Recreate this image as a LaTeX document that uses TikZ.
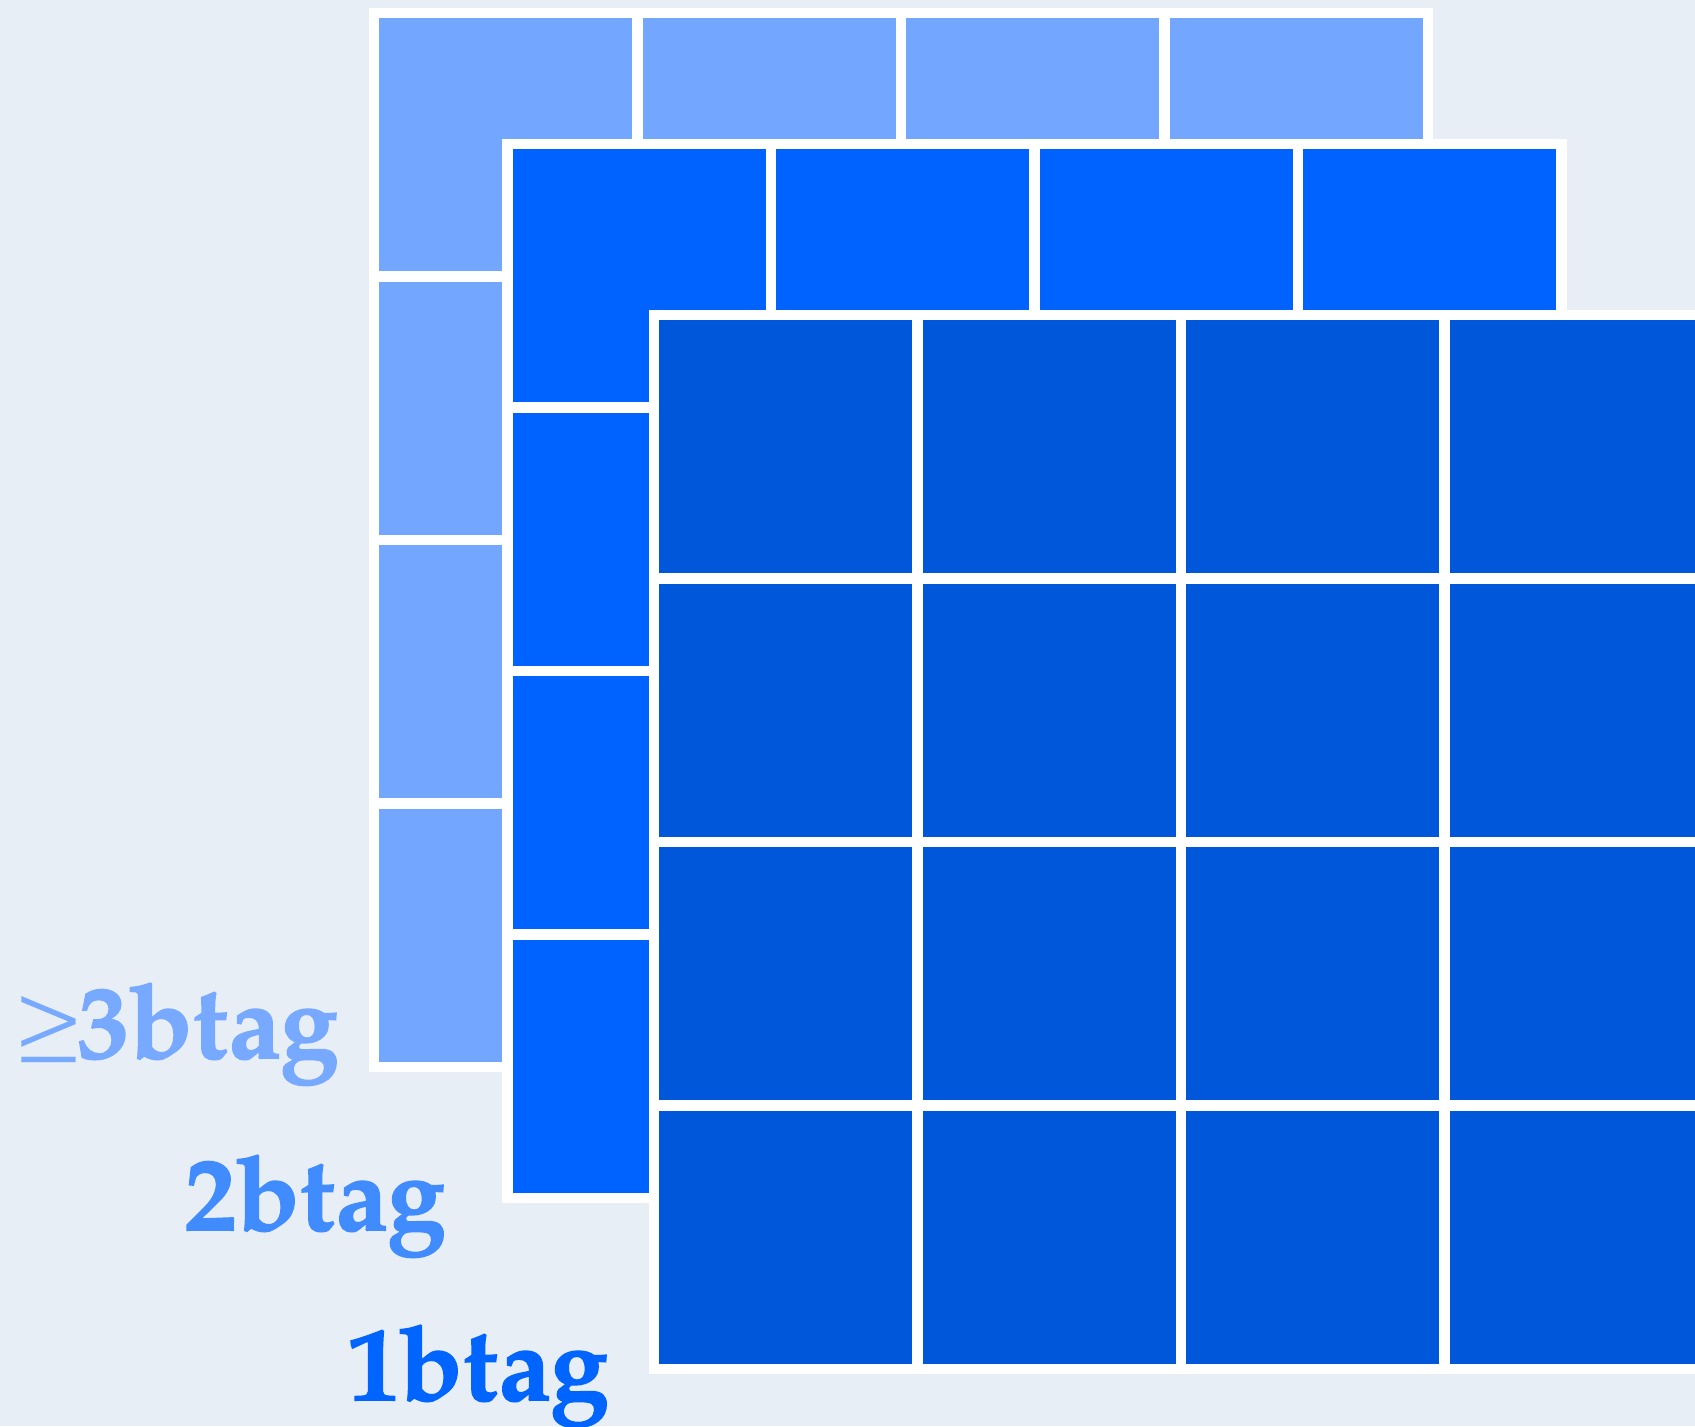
\documentclass[tikz,border=0pt]{standalone}
\usepackage{fontspec}
\setmainfont{TeX Gyre Pagella}[BoldFeatures={FakeBold=1.4}]
\definecolor{bg}{HTML}{E8EEF6}
\definecolor{lightL}{HTML}{73A6FF}
\definecolor{midL}{HTML}{0062FF}
\definecolor{frontL}{HTML}{0057D9}
\definecolor{txtA}{HTML}{76A9FF}
\definecolor{txtB}{HTML}{408CFF}
\definecolor{txtC}{HTML}{0064FF}
\begin{document}
\begin{tikzpicture}[x=0.5pt,y=-0.5pt,
  lbl/.style={anchor=base west,inner sep=0pt,font=\fontsize{52pt}{52pt}\selectfont\bfseries}]
\useasboundingbox (0,0) rectangle (1695,1426);
\clip (0,0) rectangle (1695,1426);
\fill[bg] (0,0) rectangle (1695,1426);
\foreach \ox/\oy/\col in {379.3/18.3/lightL, 512.7/149.3/midL, 659.3/320/frontL}{
  \fill[white] (\ox-10.5,\oy-10.5) rectangle (\ox+1054,\oy+1054);
  \foreach \i in {0,...,3}{\foreach \j in {0,...,3}{
    \fill[\col] (\ox+\i*263.5,\oy+\j*263.5) rectangle ++(253,253);
  }}
}
\node[lbl,text=txtA] (t3) at (14,1058) {{\mdseries\fontsize{45pt}{45pt}\selectfont\raisebox{3pt}{≥}}\kern-3pt3btag};
\node[lbl,text=txtB] (t2) at (184,1230) {2btag};
\node[lbl,text=txtC] (t1) at (347,1400) {1btag};
\end{tikzpicture}
\end{document}
